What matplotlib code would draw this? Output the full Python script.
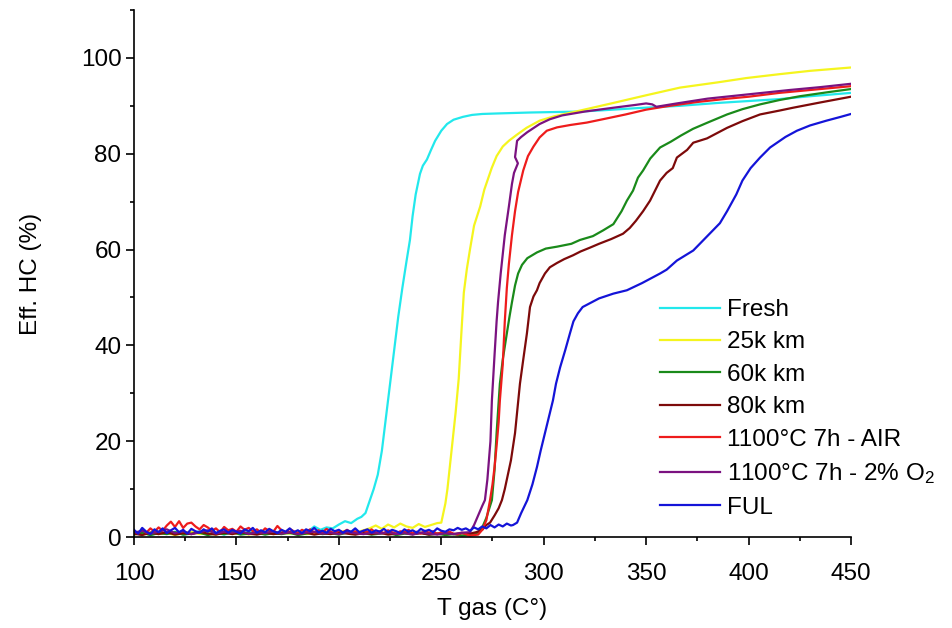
import matplotlib
matplotlib.use("Agg")
import matplotlib.pyplot as plt
from matplotlib.ticker import MultipleLocator

plt.rcParams['font.family'] = ['Liberation Sans', 'DejaVu Sans']
plt.rcParams['mathtext.fontset'] = 'custom'
plt.rcParams['mathtext.rm'] = 'Liberation Sans'
plt.rcParams['mathtext.it'] = 'Liberation Sans'

# ---- light-off curves: gas temperature (°C) and HC efficiency (%) ----
fresh_T = [100, 104, 108, 112, 116, 120, 124, 128, 132, 136, 140, 144, 148, 152, 156, 160,
           164, 168, 172, 176, 180, 184, 188, 191, 194, 197, 200, 203, 206, 209, 211, 213,
           215, 217, 219, 221, 223, 225, 227, 229, 231, 233, 234.7, 236, 237.5, 239.6, 241,
           243, 245, 247, 250, 252.8, 256, 260.6, 265, 270, 277, 285, 293, 305, 317.7, 330,
           345, 366.5, 385, 400, 415, 430, 450]
fresh_eff = [0.6, 1.0, 0.4, 0.9, 0.7, 1.1, 0.5, 0.8, 1.2, 0.6, 0.9, 0.5, 1.0, 0.7, 1.1, 0.6,
             0.9, 0.8, 1.2, 0.7, 1.0, 0.8, 2.2, 1.5, 2.0, 1.8, 2.6, 3.3, 2.9, 3.8, 4.2, 5.0,
             7.5, 10.0, 13.0, 18.0, 25.0, 32.0, 39.0, 46.0, 52.0, 57.5, 62.0, 67.0, 71.5, 75.8, 77.5,
             78.8, 80.8, 82.7, 84.8, 86.2, 87.1, 87.7, 88.1, 88.3, 88.4, 88.5, 88.6, 88.7, 88.8, 89.1,
             89.5, 90.0, 90.6, 91.0, 91.4, 92.0, 92.7]

km25_T = [100, 104, 108, 112, 116, 120, 124, 128, 132, 136, 140, 144, 148, 152, 156, 160,
          164, 168, 172, 176, 180, 184, 188, 192, 196, 200, 204, 208, 212, 215, 218, 221,
          224, 227, 230, 233, 236, 239, 242, 245, 248, 250, 251, 252, 253, 255, 257, 258.5,
          260, 261, 262.5, 264, 266, 269, 271, 274.6, 277, 280, 283, 287, 291.6, 298, 305,
          317.7, 334, 350, 366.5, 385, 399, 415, 430, 450]
km25_eff = [0.8, 0.5, 1.0, 0.6, 0.9, 0.4, 0.8, 1.1, 0.6, 0.9, 0.5, 1.0, 0.7, 0.9, 0.5, 0.8,
            1.1, 0.6, 0.9, 0.7, 1.0, 0.6, 0.8, 1.2, 0.7, 1.0, 1.3, 0.9, 1.4, 1.8, 2.4, 1.7,
            2.6, 2.0, 2.8, 2.2, 1.9, 2.7, 2.1, 2.5, 2.9, 3.0, 5.0, 7.0, 10.0, 18.0, 26.0, 33.0,
            44.0, 51.0, 56.0, 60.0, 65.0, 69.0, 72.5, 77.0, 79.5, 81.5, 82.7, 84.0, 85.4, 86.9, 87.8,
            89.0, 90.6, 92.2, 93.8, 94.9, 95.8, 96.6, 97.3, 98.0]

km60_T = [100, 104, 108, 112, 116, 120, 124, 128, 132, 136, 140, 144, 148, 152, 156, 160,
          164, 168, 172, 176, 180, 184, 188, 192, 196, 200, 204, 208, 212, 216, 220, 224,
          228, 232, 236, 240, 244, 248, 252, 256, 260, 264, 266, 268, 270, 272, 274.7, 276,
          277, 278.6, 280, 282, 283.3, 284.5, 286, 287.5, 289.4, 292, 296.7, 301, 306.5,
          313.5, 317.7, 324, 329, 334, 338, 340.6, 343.6, 346, 348.5, 352, 356.8, 362, 367,
          372.9, 380, 389.5, 397, 405.6, 415, 425, 438, 450]
km60_eff = [0.5, 0.9, 0.4, 0.8, 0.6, 1.0, 0.5, 0.7, 0.9, 0.4, 0.8, 0.6, 1.0, 0.5, 0.7, 0.9,
            0.5, 0.8, 0.6, 0.9, 0.4, 0.7, 1.0, 0.6, 0.8, 0.5, 0.9, 0.6, 0.8, 0.5, 0.7, 0.9,
            0.4, 0.7, 0.6, 0.9, 0.5, 0.7, 0.4, 0.6, 0.3, 0.4, 0.5, 1.0, 2.0, 4.0, 7.7, 14.0,
            21.7, 32.0, 37.0, 42.5, 46.0, 49.0, 52.5, 55.0, 56.8, 58.2, 59.4, 60.2, 60.6,
            61.2, 62.0, 62.8, 64.0, 65.3, 68.0, 70.2, 72.3, 75.0, 76.5, 79.0, 81.3, 82.5, 83.8,
            85.2, 86.5, 88.2, 89.3, 90.3, 91.2, 92.0, 92.8, 93.5]

km80_T = [100, 104, 108, 112, 116, 120, 124, 128, 132, 136, 140, 144, 148, 152, 156, 160,
          164, 168, 172, 176, 180, 184, 188, 192, 196, 200, 204, 208, 212, 216, 220, 224,
          228, 232, 236, 240, 244, 248, 252, 256, 260, 264, 267, 270, 272, 273.8, 276, 278,
          279.6, 281, 282.5, 284, 286, 287, 288.4, 290, 291.8, 293.3, 295, 296.7, 298, 300.6,
          303, 306.5, 310, 314.3, 318, 322.6, 327, 333, 338.7, 342, 345, 348.5, 351.9, 356.8,
          360, 363, 365, 370, 373, 379.7, 389.5, 397, 405.6, 415, 421.7, 435, 450]
km80_eff = [0.7, 0.4, 0.9, 0.6, 1.0, 0.5, 0.8, 0.6, 1.1, 0.7, 0.5, 0.9, 0.6, 1.0, 0.7, 0.5,
            0.9, 0.6, 0.8, 1.0, 0.6, 0.9, 0.5, 0.8, 0.6, 1.0, 0.7, 0.5, 0.8, 0.6, 0.9, 0.5,
            0.7, 1.0, 0.6, 0.8, 0.5, 0.7, 0.9, 0.6, 0.8, 0.7, 1.0, 1.5, 2.5, 3.0, 4.5, 6.0,
            7.7, 10.0, 13.0, 16.0, 21.7, 26.0, 32.0, 37.0, 42.5, 48.0, 50.2, 51.5, 53.0, 55.0,
            56.3, 57.2, 58.0, 58.8, 59.6, 60.4, 61.2, 62.2, 63.3, 64.5, 66.0, 68.0, 70.2, 74.4,
            76.0, 77.0, 79.2, 80.8, 82.3, 83.2, 85.4, 86.8, 88.2, 89.0, 89.6, 90.7, 91.9]

air_T = [100, 102, 104, 106, 108, 110, 112, 114, 116, 118, 120, 122, 124, 126, 128, 130,
         132, 134, 136, 138, 140, 142, 144, 146, 148, 150, 152, 154, 156, 158, 160, 162,
         164, 166, 168, 170, 172, 174, 176, 178, 180, 182, 184, 186, 188, 190, 192, 194,
         196, 198, 200, 202, 204, 206, 208, 210, 212, 214, 216, 218, 220, 222, 224, 226,
         228, 230, 232, 234, 236, 238, 240, 242, 244, 246, 248, 250, 252, 254, 256, 258,
         260, 262, 264, 266, 268, 270, 272, 273.8, 275, 276, 277, 278, 278.6, 280, 281, 282,
         283, 284.5, 286, 287.5, 290, 292.3, 295, 298, 301.5, 306.5, 313, 321, 330, 340,
         350, 360, 375, 390, 400, 415, 430, 450]
air_eff = [1.2, 0.8, 1.5, 0.9, 1.8, 1.1, 2.0, 1.3, 2.4, 3.2, 2.1, 3.3, 1.9, 2.8, 3.0, 2.2,
           1.6, 2.5, 2.0, 1.3, 1.8, 1.0, 2.1, 1.4, 1.7, 1.1, 2.2, 1.5, 1.9, 1.2, 1.6, 0.9,
           1.8, 1.3, 1.1, 2.3, 1.4, 1.0, 1.7, 1.2, 0.8, 1.5, 1.1, 1.6, 0.9, 1.4, 1.0, 1.7,
           1.1, 0.8, 1.3, 1.0, 1.5, 0.9, 1.2, 0.7, 1.3, 1.0, 1.6, 0.9, 1.2, 0.8, 1.4, 1.0,
           0.7, 1.2, 0.9, 1.5, 0.8, 1.1, 0.7, 1.3, 0.9, 1.2, 0.6, 1.0, 0.8, 1.1, 0.7, 0.5,
           0.9, 0.6, 0.3, 0.4, 0.5, 1.5, 3.5, 7.7, 11.0, 14.6, 19.0, 24.0, 28.5, 36.0, 45.0, 52.0,
           57.0, 63.0, 68.0, 72.0, 76.5, 79.5, 81.5, 83.4, 84.8, 85.5, 86.0, 86.5, 87.3, 88.2,
           89.2, 89.9, 90.8, 91.5, 91.9, 92.7, 93.3, 94.1]

o2_T = [100, 104, 108, 112, 116, 120, 124, 128, 132, 136, 140, 144, 148, 152, 156, 160,
        164, 168, 172, 176, 180, 184, 188, 192, 196, 200, 204, 208, 212, 216, 220, 224,
        228, 232, 236, 240, 244, 248, 252, 256, 260, 264, 266, 268, 270, 271.3, 272.5, 274,
        274.7, 276, 277, 277.7, 279, 281, 283, 284.5, 285.5, 287.4, 286, 286.5, 287, 289,
        292, 298, 303, 309, 320, 334, 345, 350, 353, 355, 365, 380, 400, 420, 435, 450]
o2_eff = [0.9, 1.3, 0.7, 1.1, 1.6, 0.8, 1.2, 0.6, 1.0, 1.4, 0.7, 1.1, 0.9, 1.3, 0.6, 1.0,
          0.8, 1.2, 0.7, 1.0, 0.6, 0.9, 1.1, 0.7, 0.9, 0.6, 1.0, 0.8, 0.6, 0.9, 0.7, 1.0,
          0.6, 0.8, 0.5, 0.9, 0.7, 0.5, 0.8, 0.6, 0.9, 1.0, 2.5, 4.5, 6.5, 7.7, 12.0, 20.0,
          28.5, 38.0, 45.0, 49.0, 55.0, 63.0, 69.0, 73.7, 76.0, 78.0, 79.3, 81.0, 82.7, 83.5,
          84.5, 86.2, 87.2, 88.0, 88.8, 89.6, 90.2, 90.5, 90.3, 89.8, 90.5, 91.5, 92.4, 93.3, 93.9, 94.6]

ful_T = [100, 102, 104, 106, 108, 110, 112, 114, 116, 118, 120, 122, 124, 126, 128, 130,
         132, 134, 136, 138, 140, 142, 144, 146, 148, 150, 152, 154, 156, 158, 160, 162,
         164, 166, 168, 170, 172, 174, 176, 178, 180, 182, 184, 186, 188, 190, 192, 194,
         196, 198, 200, 202, 204, 206, 208, 210, 212, 214, 216, 218, 220, 222, 224, 226,
         228, 230, 232, 234, 236, 238, 240, 242, 244, 246, 248, 250, 252, 254, 256, 258,
         260, 262, 264, 266, 268, 270, 272, 274, 276, 278, 280, 282, 284, 285, 287, 289,
         292, 294.5, 296.7, 298.5, 300.6, 302.5, 304.5, 306, 308, 310.5, 312.8, 314.5, 316.7,
         319, 322.6, 327, 334, 340.6, 348, 356.8, 360, 365, 373, 381, 386, 389.5, 394, 397,
         401, 405.6, 410.5, 413.9, 418, 423.6, 430, 438, 445, 450]
ful_eff = [1.5, 0.7, 1.9, 1.1, 0.6, 1.6, 1.0, 1.8, 0.8, 1.4, 1.9, 1.0, 1.5, 0.7, 1.7, 1.2,
           0.9, 1.6, 1.1, 1.8, 0.8, 1.3, 1.6, 0.9, 1.5, 1.1, 0.7, 1.6, 1.2, 1.9, 0.9, 1.4,
           1.0, 1.7, 1.2, 0.8, 1.5, 1.1, 1.8, 1.0, 1.4, 0.8, 1.6, 1.2, 1.9, 1.0, 1.3, 0.9,
           1.7, 1.2, 1.5, 0.9, 1.4, 1.1, 1.8, 1.0, 1.3, 1.6, 0.9, 1.4, 1.1, 1.7, 1.0, 1.5,
           1.2, 0.8, 1.6, 1.1, 1.4, 0.9, 1.7, 1.2, 1.5, 1.0, 1.8, 1.3, 1.1, 1.6, 1.4, 1.9,
           1.5, 1.8, 1.3, 2.0, 1.6, 2.2, 1.8, 2.5, 2.0, 2.6, 2.2, 2.8, 2.4, 2.5, 3.0, 5.0,
           7.7, 11.0, 14.6, 18.0, 21.7, 25.0, 28.5, 32.0, 35.4, 39.0, 42.5, 45.0, 46.7,
           48.0, 48.8, 49.8, 50.8, 51.5, 53.0, 55.0, 55.8, 57.7, 59.8, 63.3, 65.5, 68.0, 71.5, 74.4,
           77.0, 79.2, 81.3, 82.3, 83.5, 84.8, 85.9, 86.9, 87.7, 88.3]

labels = ['Fresh', '25k km', '60k km', '80k km', '1100°C 7h - AIR',
          '1100°C 7h - 2% O$_2$', 'FUL']
colors = ['#22e8ec', '#f5f51e', '#1a8a1a', '#7d0a0a', '#ee1c1c', '#7b1280', '#1414d8']
series = [(fresh_T, fresh_eff), (km25_T, km25_eff), (km60_T, km60_eff),
          (km80_T, km80_eff), (air_T, air_eff), (o2_T, o2_eff), (ful_T, ful_eff)]

FS = 17.5

fig = plt.figure(figsize=(9.53, 6.28), dpi=100)
ax = fig.add_axes([134 / 953, 91 / 628, 717 / 953, 527 / 628])

for (t, e), lab, col in zip(series, labels, colors):
    ax.plot(t, e, color=col, lw=1.6, label=lab)

ax.set_xlim(100, 450)
ax.set_ylim(0, 110)
ax.xaxis.set_major_locator(MultipleLocator(50))
ax.xaxis.set_minor_locator(MultipleLocator(25))
ax.yaxis.set_minor_locator(MultipleLocator(10))
ax.set_yticks([0, 20, 40, 60, 80, 100])

for side in ('top', 'right'):
    ax.spines[side].set_visible(False)
for side in ('left', 'bottom'):
    ax.spines[side].set_linewidth(1.2)
ax.tick_params(which='major', direction='out', length=6, width=1.2, labelsize=FS)
ax.tick_params(which='minor', direction='out', length=3, width=1.2)
ax.tick_params(axis='x', which='major', pad=13)
ax.tick_params(axis='y', which='major', pad=3)

ax.set_xlabel('T gas (C°)', fontsize=FS, labelpad=9)
ax.set_ylabel('Eff. HC (%)', fontsize=FS, labelpad=28)

ax.legend(loc='upper left', bbox_to_anchor=(660 / 953, 1 - 299 / 628),
          bbox_transform=fig.transFigure, frameon=False, fontsize=FS,
          handlelength=2.45, handletextpad=0.3, labelspacing=0.43,
          borderpad=0, borderaxespad=0)

fig.savefig('out.png', dpi=100)
